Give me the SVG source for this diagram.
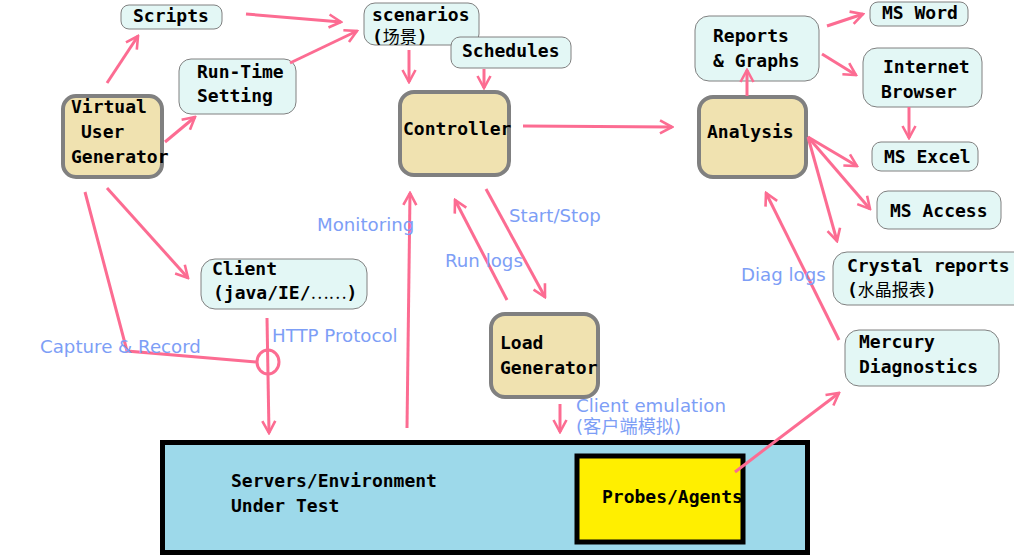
<svg xmlns="http://www.w3.org/2000/svg" width="1014" height="559" viewBox="0 0 1014 559">
<style>
.sub{fill:#e3f7f5;stroke:#808080;stroke-width:1}
.main{fill:#f0e2b0;stroke:#808080;stroke-width:4}
.t{font-family:"DejaVu Sans Mono","Liberation Mono","Noto Sans CJK SC",monospace;font-weight:bold;font-size:18px;fill:#000}
.cjk{font-family:"Noto Sans CJK SC",sans-serif;font-weight:normal;font-size:17px}
.lbl{font-family:"DejaVu Sans","Noto Sans CJK SC",sans-serif;font-size:18.2px;fill:#7d9ef6}
.c{stroke:#fc6c92;stroke-width:3;fill:none}
</style>
<defs>
<marker id="ah" viewBox="-14 -8 16 16" markerWidth="16" markerHeight="16" refX="0" refY="0" orient="auto" markerUnits="userSpaceOnUse">
<path d="M-12,-6.5 L0,0 L-12,6.5" fill="none" stroke="#fc6c92" stroke-width="2.6"/>
</marker>
</defs>
<rect width="1014" height="559" fill="#fff"/>

<g id="sut">
<rect x="162.5" y="442.5" width="645" height="110" fill="#9dd9ea" stroke="#000" stroke-width="5"/>
<text class="t" x="231" y="487">Servers/Environment</text>
<text class="t" x="231" y="512">Under Test</text>
</g>
<g id="probes">
<rect x="577" y="456" width="166" height="86" fill="#ffef00" stroke="#000" stroke-width="5"/>
<text class="t" x="602" y="503">Probes/Agents</text>
</g>

<g id="scripts">
<rect class="sub" x="121" y="5" width="101" height="24" rx="8"/>
<text class="t" x="133" y="22">Scripts</text>
</g>
<g id="runtime">
<rect class="sub" x="179" y="59" width="117" height="55" rx="12"/>
<text class="t" x="197" y="78">Run-Time</text>
<text class="t" x="197" y="102">Setting</text>
</g>
<g id="scenarios">
<rect class="sub" x="364" y="3" width="115" height="42" rx="11"/>
<text class="t" x="372" y="21">scenarios</text>
<text class="t" x="372" y="43">(<tspan class="cjk">场景</tspan>)</text>
</g>
<g id="schedules">
<rect class="sub" x="451" y="37" width="120" height="31" rx="9"/>
<text class="t" x="462" y="57">Schedules</text>
</g>
<g id="vug">
<rect class="main" x="63" y="96" width="99" height="81" rx="13"/>
<text class="t" x="71" y="113">Virtual</text>
<text class="t" x="81" y="138">User</text>
<text class="t" x="71" y="163">Generator</text>
</g>
<g id="controller">
<rect class="main" x="400" y="92" width="109" height="83" rx="14"/>
<text class="t" x="403" y="135">Controller</text>
</g>
<g id="analysis">
<rect class="main" x="699" y="97" width="107" height="80" rx="14"/>
<text class="t" x="707" y="138">Analysis</text>
</g>
<g id="loadgen">
<rect class="main" x="491" y="314" width="107" height="83" rx="14"/>
<text class="t" x="500" y="349">Load</text>
<text class="t" x="500" y="374">Generator</text>
</g>
<g id="reports">
<rect class="sub" x="695" y="16" width="124" height="65" rx="14"/>
<text class="t" x="713" y="42">Reports</text>
<text class="t" x="713" y="67">&amp; Graphs</text>
</g>
<g id="msword">
<rect class="sub" x="870" y="2" width="98" height="24" rx="8"/>
<text class="t" x="882" y="19">MS Word</text>
</g>
<g id="browser">
<rect class="sub" x="863" y="48" width="119" height="59" rx="14"/>
<text class="t" x="883" y="73">Internet</text>
<text class="t" x="881" y="98">Browser</text>
</g>
<g id="excel">
<rect class="sub" x="872" y="142" width="106" height="29" rx="9"/>
<text class="t" x="884" y="163">MS Excel</text>
</g>
<g id="access">
<rect class="sub" x="877" y="191" width="124" height="38" rx="11"/>
<text class="t" x="890" y="217">MS Access</text>
</g>
<g id="crystal">
<rect class="sub" x="833" y="252" width="200" height="53" rx="14"/>
<text class="t" x="847" y="272">Crystal reports</text>
<text class="t" x="847" y="296">(<tspan class="cjk">水晶报表</tspan>)</text>
</g>
<g id="mercury">
<rect class="sub" x="845" y="330" width="154" height="56" rx="14"/>
<text class="t" x="859" y="348">Mercury</text>
<text class="t" x="859" y="373">Diagnostics</text>
</g>
<g id="client">
<rect class="sub" x="201" y="259" width="166" height="50" rx="14"/>
<text class="t" x="212" y="275">Client</text>
<text class="t" x="213" y="299">(java/IE/<tspan class="cjk" font-size="20" font-weight="bold">……</tspan>)</text>
</g>

<g id="connectors">
<line class="c" x1="107" y1="83" x2="138" y2="36" marker-end="url(#ah)"/>
<line class="c" x1="165" y1="142" x2="195" y2="117" marker-end="url(#ah)"/>
<line class="c" x1="246" y1="14" x2="341" y2="22" marker-end="url(#ah)"/>
<line class="c" x1="290" y1="63" x2="357" y2="31" marker-end="url(#ah)"/>
<line class="c" x1="409" y1="50" x2="409" y2="82" marker-end="url(#ah)"/>
<line class="c" x1="484" y1="69" x2="484" y2="88" marker-end="url(#ah)"/>
<line class="c" x1="523" y1="126" x2="672" y2="127" marker-end="url(#ah)"/>
<line class="c" x1="747" y1="96" x2="747" y2="70" marker-end="url(#ah)"/>
<line class="c" x1="827" y1="26" x2="863" y2="14" marker-end="url(#ah)"/>
<line class="c" x1="822" y1="54" x2="856" y2="75" marker-end="url(#ah)"/>
<line class="c" x1="909" y1="107" x2="909" y2="138" marker-end="url(#ah)"/>
<line class="c" x1="808" y1="137" x2="857" y2="166" marker-end="url(#ah)"/>
<line class="c" x1="808" y1="137" x2="870" y2="209" marker-end="url(#ah)"/>
<line class="c" x1="808" y1="137" x2="837" y2="241" marker-end="url(#ah)"/>
<line class="c" x1="839" y1="340" x2="766" y2="193" marker-end="url(#ah)"/>
<line class="c" x1="735" y1="472" x2="839" y2="393" marker-end="url(#ah)"/>
<line class="c" x1="107" y1="188" x2="188" y2="278" marker-end="url(#ah)"/>
<polyline class="c" points="85,192 127,351 256,362"/>
<ellipse class="c" cx="268" cy="362" rx="11" ry="12"/>
<line class="c" x1="267" y1="318" x2="269" y2="433" marker-end="url(#ah)"/>
<line class="c" x1="407" y1="428" x2="410" y2="193" marker-end="url(#ah)"/>
<line class="c" x1="507" y1="300" x2="455" y2="200" marker-end="url(#ah)"/>
<line class="c" x1="486" y1="189" x2="545" y2="297" marker-end="url(#ah)"/>
<line class="c" x1="560" y1="404" x2="560" y2="432" marker-end="url(#ah)"/>
</g>

<g id="labels">
<text class="lbl" x="317" y="231">Monitoring</text>
<text class="lbl" x="509" y="222">Start/Stop</text>
<text class="lbl" x="445" y="267">Run logs</text>
<text class="lbl" x="741" y="281">Diag logs</text>
<text class="lbl" x="40" y="353">Capture &amp; Record</text>
<text class="lbl" x="272" y="342">HTTP Protocol</text>
<text class="lbl" x="576" y="412">Client emulation</text>
<text class="lbl" x="576" y="433">(客户端模拟)</text>
</g>
</svg>
